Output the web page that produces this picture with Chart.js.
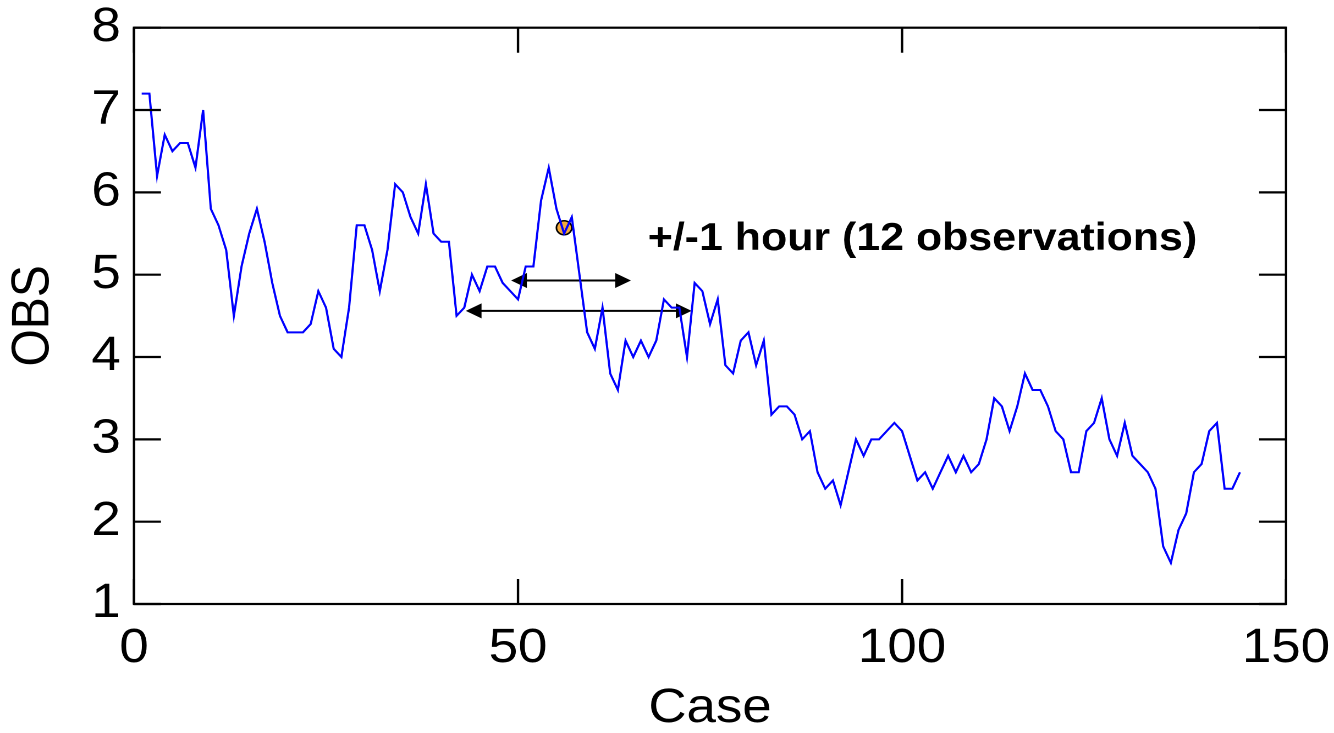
<!DOCTYPE html>
<html>
<head>
<meta charset="utf-8">
<title>OBS by case</title>
<script src="https://cdn.jsdelivr.net/npm/chart.js@4/dist/chart.umd.min.js"></script>
<style>
  html, body { margin: 0; padding: 0; background: #fff; overflow: hidden; }
  /* the figure is laid out at 1213px and widened to fill 1334px */
  #wrap { width: 1213px; height: 733px; transform: scaleX(1.09975); transform-origin: 0 0; }
</style>
</head>
<body>
<div id="wrap"><canvas id="chart"></canvas></div>
<script>
// Observed OBS values, one per case (cases 1..144)
const obs = [
  7.2, 7.2, 6.2, 6.7, 6.5, 6.6, 6.6, 6.3, 7.0, 5.8,
  5.6, 5.3, 4.5, 5.1, 5.5, 5.8, 5.4, 4.9, 4.5, 4.3,
  4.3, 4.3, 4.4, 4.8, 4.6, 4.1, 4.0, 4.6, 5.6, 5.6,
  5.3, 4.8, 5.3, 6.1, 6.0, 5.7, 5.5, 6.1, 5.5, 5.4,
  5.4, 4.5, 4.6, 5.0, 4.8, 5.1, 5.1, 4.9, 4.8, 4.7,
  5.1, 5.1, 5.9, 6.3, 5.8, 5.5, 5.7, 5.0, 4.3, 4.1,
  4.6, 3.8, 3.6, 4.2, 4.0, 4.2, 4.0, 4.2, 4.7, 4.6,
  4.6, 4.0, 4.9, 4.8, 4.4, 4.7, 3.9, 3.8, 4.2, 4.3,
  3.9, 4.2, 3.3, 3.4, 3.4, 3.3, 3.0, 3.1, 2.6, 2.4,
  2.5, 2.2, 2.6, 3.0, 2.8, 3.0, 3.0, 3.1, 3.2, 3.1,
  2.8, 2.5, 2.6, 2.4, 2.6, 2.8, 2.6, 2.8, 2.6, 2.7,
  3.0, 3.5, 3.4, 3.1, 3.4, 3.8, 3.6, 3.6, 3.4, 3.1,
  3.0, 2.6, 2.6, 3.1, 3.2, 3.5, 3.0, 2.8, 3.2, 2.8,
  2.7, 2.6, 2.4, 1.7, 1.5, 1.9, 2.1, 2.6, 2.7, 3.1,
  3.2, 2.4, 2.4, 2.6
];
const cases = obs.map((_, i) => i + 1);

const xTicks = [0, 50, 100, 150];
const yTicks = [1, 2, 3, 4, 5, 6, 7, 8];

// highlighted observation
const focusCase = [56];
const focusValue = [5.57];

// window arrows: start case, end case, level
const windowFrom = [49.1, 43.2];
const windowTo = [64.7, 72.6];
const windowLevel = [4.93, 4.56];

const noteText = '+/-1 hour (12 observations)';
const noteCase = 66.9;
const noteLevel = 5.3;

const FONT = '"Liberation Sans", Arial, Helvetica, sans-serif';

// keep the plot box fixed: no extra room reserved for edge labels
function clearPadding(s) {
  s.paddingTop = 0;
  s.paddingBottom = 0;
  s.paddingLeft = 0;
  s.paddingRight = 0;
}

const decorations = {
  id: 'decorations',
  beforeDatasetsDraw(chart) {
    const { ctx, scales: { x, y } } = chart;
    ctx.save();
    ctx.strokeStyle = '#000';
    ctx.fillStyle = '#000';
    ctx.lineWidth = 2;
    const hl = 14.3, hw = 7.5;
    windowFrom.forEach((from, i) => {
      const x0 = x.getPixelForValue(from);
      const x1 = x.getPixelForValue(windowTo[i]);
      const py = y.getPixelForValue(windowLevel[i]);
      ctx.beginPath();
      ctx.moveTo(x0 + hl - 1, py);
      ctx.lineTo(x1 - hl + 1, py);
      ctx.stroke();
      ctx.beginPath();
      ctx.moveTo(x0, py);
      ctx.lineTo(x0 + hl, py - hw);
      ctx.lineTo(x0 + hl, py + hw);
      ctx.closePath();
      ctx.fill();
      ctx.beginPath();
      ctx.moveTo(x1, py);
      ctx.lineTo(x1 - hl, py - hw);
      ctx.lineTo(x1 - hl, py + hw);
      ctx.closePath();
      ctx.fill();
    });
    ctx.restore();
  },
  afterDraw(chart) {
    const { ctx, chartArea: a, scales: { x, y } } = chart;
    ctx.save();
    ctx.strokeStyle = '#000';
    ctx.lineWidth = 2.2;
    ctx.lineCap = 'butt';
    // inward tick marks on all four sides
    const tlY = 24.5, tlX = 25;
    ctx.beginPath();
    yTicks.forEach(v => {
      const py = y.getPixelForValue(v);
      ctx.moveTo(a.left, py); ctx.lineTo(a.left + tlY, py);
      ctx.moveTo(a.right, py); ctx.lineTo(a.right - tlY, py);
    });
    xTicks.forEach(v => {
      const px = x.getPixelForValue(v);
      ctx.moveTo(px, a.bottom); ctx.lineTo(px, a.bottom - tlX);
      ctx.moveTo(px, a.top); ctx.lineTo(px, a.top + tlX);
    });
    ctx.stroke();
    // frame
    ctx.strokeRect(a.left, a.top, a.right - a.left, a.bottom - a.top);
    // note
    ctx.fillStyle = '#000';
    ctx.font = 'bold 39px ' + FONT;
    ctx.textAlign = 'left';
    ctx.textBaseline = 'alphabetic';
    ctx.fillText(noteText, x.getPixelForValue(noteCase), y.getPixelForValue(noteLevel));
    ctx.restore();
  }
};

new Chart(document.getElementById('chart'), {
  data: {
    datasets: [
      {
        type: 'line',
        label: 'OBS',
        data: cases.map((c, i) => ({ x: c, y: obs[i] })),
        borderColor: '#0000FF',
        borderWidth: 2,
        pointRadius: 0,
        tension: 0,
        fill: false,
        order: 0
      },
      {
        type: 'scatter',
        label: 'focus',
        data: focusCase.map((c, i) => ({ x: c, y: focusValue[i] })),
        pointRadius: 7,
        backgroundColor: '#F4A93A',
        borderColor: '#000',
        borderWidth: 1.5,
        order: 1
      }
    ]
  },
  options: {
    responsive: true,
    maintainAspectRatio: false,
    animation: false,
    devicePixelRatio: 2,
    events: [],
    layout: { padding: { left: 0, right: 43.6, top: 27.7, bottom: 0 } },
    plugins: { legend: { display: false }, tooltip: { enabled: false } },
    scales: {
      x: {
        type: 'linear',
        min: 0,
        max: 150,
        afterBuildTicks: s => { s.ticks = xTicks.map(v => ({ value: v })); },
        afterFit: s => { s.height = 129; clearPadding(s); },
        grid: { display: false, drawTicks: false },
        border: { display: false },
        ticks: {
          color: '#000',
          font: { family: FONT, size: 48, lineHeight: 1 },
          padding: 21,
          maxRotation: 0,
          autoSkip: false
        },
        title: {
          display: true,
          text: 'Case',
          color: '#000',
          font: { family: FONT, size: 48, lineHeight: 1 },
          padding: { top: 0, bottom: 0 }
        }
      },
      y: {
        type: 'linear',
        min: 1,
        max: 8,
        afterBuildTicks: s => { s.ticks = yTicks.map(v => ({ value: v })); },
        afterFit: s => { s.width = 121.85; clearPadding(s); },
        grid: { display: false, drawTicks: false },
        border: { display: false },
        ticks: {
          color: '#000',
          font: { family: FONT, size: 48, lineHeight: 1 },
          padding: 12,
          autoSkip: false
        },
        title: {
          display: true,
          text: 'OBS',
          color: '#000',
          font: { family: FONT, size: 48, lineHeight: 1 },
          padding: { top: 7, bottom: 0 }
        }
      }
    }
  },
  plugins: [decorations]
});
</script>
</body>
</html>
